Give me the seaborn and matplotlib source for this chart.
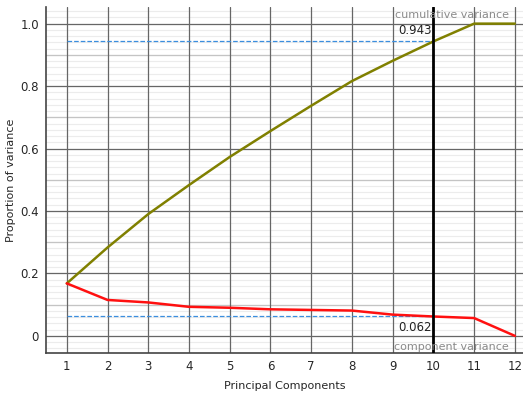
import numpy as np
import pandas as pd
import matplotlib
matplotlib.use("Agg")
import matplotlib.pyplot as plt
import seaborn as sns

# values
components = [1, 2, 3, 4, 5, 6, 7, 8, 9, 10, 11, 12]
component_variance = [0.168, 0.115, 0.107, 0.093, 0.090, 0.085, 0.083, 0.081, 0.068, 0.062, 0.057, 0.0]
cumulative_variance = [0.168, 0.283, 0.390, 0.483, 0.573, 0.656, 0.737, 0.816, 0.881, 0.943, 1.0, 1.0]
selected_n = 10
selected_cum = 0.943
selected_comp = 0.062

sns.set_style("white")
plt.rcParams["font.family"] = ["DejaVu Sans"]

df = pd.DataFrame({
    "pc": components,
    "component": component_variance,
    "cumulative": cumulative_variance,
})

fig = plt.figure(figsize=(5.23, 3.94), dpi=100)
ax = fig.add_axes([0.088, 0.104, 0.912, 0.878])

# grid: light every 0.02, medium every 0.1, dark every 0.2 and at each component
for y in np.arange(-0.04, 1.06, 0.02):
    ax.axhline(y, color="#ececec", lw=0.8, zorder=0.1)
for y in np.arange(0.1, 1.01, 0.2):
    ax.axhline(y, color="#c4c4c4", lw=0.9, zorder=0.2)
for y in np.arange(0, 1.01, 0.2):
    ax.axhline(y, color="#666666", lw=0.9, zorder=0.3)
for x in components:
    ax.axvline(x, color="#666666", lw=0.9, zorder=0.3)

sns.lineplot(data=df, x="pc", y="cumulative", color="#808000", lw=1.8, ax=ax, zorder=2)
sns.lineplot(data=df, x="pc", y="component", color="#ff1010", lw=1.8, ax=ax, zorder=2)

ax.plot([components[0], selected_n], [selected_cum, selected_cum], ls="--", color="#3b8ede", lw=0.9, zorder=1)
ax.plot([components[0], selected_n], [selected_comp, selected_comp], ls="--", color="#3b8ede", lw=0.9, zorder=1)
ax.axvline(selected_n, color="black", lw=2, zorder=3)

ax.text(selected_n - 0.05, selected_cum + 0.015, f"{selected_cum:.3f}", ha="right", va="bottom", fontsize=8.5, color="#222222")
ax.text(selected_n - 0.05, selected_comp - 0.015, f"{selected_comp:.3f}", ha="right", va="top", fontsize=8.5, color="#222222")
ax.text(11.85, 1.045, "cumulative variance", ha="right", va="top", fontsize=8, color="#8a8a8a")
ax.text(11.85, -0.052, "component variance", ha="right", va="bottom", fontsize=8, color="#8a8a8a")

ax.set_xlim(0.49, 12.2)
ax.set_ylim(-0.055, 1.053)
ax.set_yticks([0, 0.2, 0.4, 0.6, 0.8, 1.0])
ax.set_yticklabels(["0", "0.2", "0.4", "0.6", "0.8", "1.0"])
ax.set_xticks(components)
ax.tick_params(axis="both", labelsize=8.5, length=0, pad=5)
ax.set_xlabel("Principal Components", fontsize=8, labelpad=6)
ax.set_ylabel("Proportion of variance", fontsize=8, labelpad=3)

sns.despine(ax=ax, top=True, right=True)
for s in ["left", "bottom"]:
    ax.spines[s].set_color("#444444")
    ax.spines[s].set_linewidth(1.2)

plt.savefig("out.png", dpi=100)
plt.close()
